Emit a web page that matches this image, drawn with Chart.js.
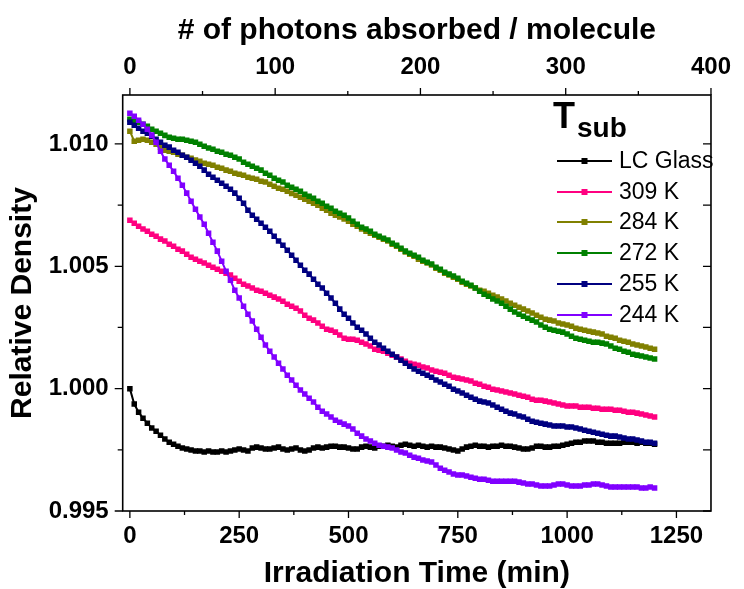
<!DOCTYPE html>
<html>
<head>
<meta charset="utf-8">
<script src="https://cdn.jsdelivr.net/npm/chart.js@4.4.0/dist/chart.umd.min.js"></script>
<style>
  html, body { margin: 0; padding: 0; background: #fff; }
  #graph-holder { width: 744px; height: 589px; }
</style>
</head>
<body>
<div id="graph-holder"><canvas id="graph-main" width="744" height="589"></canvas></div>
<script>
// irradiation time (min), one reading every 10 min
const timeMin = [
    0, 10, 20, 30, 40, 50, 60, 70, 80, 90,
    100, 110, 120, 130, 140, 150, 160, 170, 180, 190,
    200, 210, 220, 230, 240, 250, 260, 270, 280, 290,
    300, 310, 320, 330, 340, 350, 360, 370, 380, 390,
    400, 410, 420, 430, 440, 450, 460, 470, 480, 490,
    500, 510, 520, 530, 540, 550, 560, 570, 580, 590,
    600, 610, 620, 630, 640, 650, 660, 670, 680, 690,
    700, 710, 720, 730, 740, 750, 760, 770, 780, 790,
    800, 810, 820, 830, 840, 850, 860, 870, 880, 890,
    900, 910, 920, 930, 940, 950, 960, 970, 980, 990,
    1000, 1010, 1020, 1030, 1040, 1050, 1060, 1070, 1080, 1090,
    1100, 1110, 1120, 1130, 1140, 1150, 1160, 1170, 1180, 1190,
    1200
];

const lcGlass = [
    1.00000, 0.99937, 0.99904, 0.99879, 0.99859, 0.99839, 0.99826, 0.99810, 0.99794, 0.99781,
    0.99773, 0.99765, 0.99757, 0.99753, 0.99749, 0.99745, 0.99745, 0.99741, 0.99745, 0.99741,
    0.99741, 0.99745, 0.99741, 0.99745, 0.99749, 0.99753, 0.99749, 0.99745, 0.99757, 0.99761,
    0.99757, 0.99753, 0.99753, 0.99757, 0.99761, 0.99753, 0.99749, 0.99753, 0.99757, 0.99749,
    0.99745, 0.99749, 0.99757, 0.99761, 0.99757, 0.99761, 0.99765, 0.99765, 0.99761, 0.99761,
    0.99757, 0.99753, 0.99753, 0.99761, 0.99765, 0.99761, 0.99757, 0.99765, 0.99765, 0.99769,
    0.99765, 0.99761, 0.99769, 0.99773, 0.99769, 0.99765, 0.99769, 0.99765, 0.99761, 0.99765,
    0.99761, 0.99761, 0.99757, 0.99753, 0.99749, 0.99745, 0.99753, 0.99761, 0.99765, 0.99769,
    0.99765, 0.99765, 0.99761, 0.99765, 0.99765, 0.99769, 0.99765, 0.99765, 0.99761, 0.99757,
    0.99753, 0.99753, 0.99757, 0.99765, 0.99765, 0.99761, 0.99761, 0.99765, 0.99765, 0.99769,
    0.99773, 0.99777, 0.99781, 0.99781, 0.99786, 0.99786, 0.99786, 0.99781, 0.99781, 0.99777,
    0.99777, 0.99777, 0.99777, 0.99781, 0.99781, 0.99781, 0.99777, 0.99781, 0.99777, 0.99777,
    0.99773
];

const sub309K = [
    1.00688, 1.00676, 1.00664, 1.00652, 1.00643, 1.00631, 1.00623, 1.00611, 1.00603, 1.00590,
    1.00582, 1.00570, 1.00562, 1.00549, 1.00537, 1.00529, 1.00521, 1.00513, 1.00504, 1.00496,
    1.00488, 1.00480, 1.00472, 1.00464, 1.00451, 1.00439, 1.00427, 1.00419, 1.00411, 1.00402,
    1.00398, 1.00390, 1.00382, 1.00374, 1.00366, 1.00357, 1.00345, 1.00337, 1.00329, 1.00317,
    1.00300, 1.00288, 1.00280, 1.00268, 1.00255, 1.00243, 1.00239, 1.00231, 1.00219, 1.00206,
    1.00202, 1.00202, 1.00198, 1.00190, 1.00182, 1.00174, 1.00161, 1.00157, 1.00153, 1.00145,
    1.00137, 1.00129, 1.00121, 1.00112, 1.00104, 1.00100, 1.00096, 1.00088, 1.00084, 1.00076,
    1.00071, 1.00067, 1.00063, 1.00055, 1.00047, 1.00043, 1.00039, 1.00035, 1.00031, 1.00022,
    1.00018, 1.00010, 1.00006, 0.99998, 0.99994, 0.99990, 0.99986, 0.99982, 0.99978, 0.99973,
    0.99969, 0.99965, 0.99957, 0.99953, 0.99953, 0.99949, 0.99945, 0.99941, 0.99937, 0.99933,
    0.99929, 0.99929, 0.99929, 0.99924, 0.99924, 0.99924, 0.99920, 0.99920, 0.99916, 0.99916,
    0.99916, 0.99912, 0.99912, 0.99908, 0.99904, 0.99904, 0.99900, 0.99896, 0.99892, 0.99888,
    0.99884
];

const sub284K = [
    1.01052, 1.01011, 1.01015, 1.01019, 1.01015, 1.01007, 1.00999, 1.00987, 1.00974, 1.00970,
    1.00966, 1.00958, 1.00954, 1.00946, 1.00942, 1.00934, 1.00929, 1.00921, 1.00917, 1.00913,
    1.00905, 1.00901, 1.00893, 1.00888, 1.00880, 1.00876, 1.00872, 1.00864, 1.00860, 1.00856,
    1.00848, 1.00844, 1.00835, 1.00827, 1.00819, 1.00815, 1.00807, 1.00798, 1.00790, 1.00782,
    1.00774, 1.00766, 1.00758, 1.00750, 1.00737, 1.00729, 1.00717, 1.00709, 1.00701, 1.00693,
    1.00684, 1.00672, 1.00664, 1.00652, 1.00643, 1.00635, 1.00627, 1.00619, 1.00611, 1.00603,
    1.00590, 1.00582, 1.00570, 1.00558, 1.00549, 1.00541, 1.00529, 1.00521, 1.00513, 1.00505,
    1.00492, 1.00484, 1.00472, 1.00464, 1.00455, 1.00447, 1.00435, 1.00427, 1.00419, 1.00411,
    1.00402, 1.00398, 1.00390, 1.00382, 1.00374, 1.00366, 1.00358, 1.00349, 1.00341, 1.00333,
    1.00325, 1.00317, 1.00309, 1.00300, 1.00292, 1.00284, 1.00280, 1.00276, 1.00268, 1.00264,
    1.00260, 1.00255, 1.00247, 1.00243, 1.00239, 1.00235, 1.00231, 1.00227, 1.00223, 1.00214,
    1.00210, 1.00206, 1.00198, 1.00194, 1.00190, 1.00182, 1.00178, 1.00174, 1.00170, 1.00165,
    1.00161
];

const sub272K = [
    1.01101, 1.01097, 1.01089, 1.01080, 1.01072, 1.01060, 1.01052, 1.01044, 1.01035, 1.01027,
    1.01023, 1.01019, 1.01019, 1.01015, 1.01011, 1.01007, 1.00999, 1.00991, 1.00983, 1.00978,
    1.00970, 1.00966, 1.00958, 1.00954, 1.00946, 1.00938, 1.00925, 1.00917, 1.00909, 1.00901,
    1.00893, 1.00880, 1.00872, 1.00860, 1.00852, 1.00844, 1.00831, 1.00823, 1.00815, 1.00807,
    1.00794, 1.00786, 1.00778, 1.00766, 1.00758, 1.00745, 1.00737, 1.00725, 1.00717, 1.00709,
    1.00697, 1.00684, 1.00672, 1.00660, 1.00652, 1.00643, 1.00631, 1.00623, 1.00615, 1.00607,
    1.00594, 1.00586, 1.00574, 1.00562, 1.00553, 1.00545, 1.00537, 1.00525, 1.00517, 1.00509,
    1.00496, 1.00488, 1.00476, 1.00468, 1.00460, 1.00451, 1.00439, 1.00431, 1.00423, 1.00411,
    1.00398, 1.00386, 1.00378, 1.00366, 1.00358, 1.00349, 1.00337, 1.00325, 1.00313, 1.00304,
    1.00296, 1.00288, 1.00280, 1.00272, 1.00260, 1.00251, 1.00243, 1.00239, 1.00235, 1.00231,
    1.00223, 1.00214, 1.00206, 1.00202, 1.00198, 1.00194, 1.00190, 1.00190, 1.00186, 1.00182,
    1.00174, 1.00165, 1.00161, 1.00153, 1.00149, 1.00141, 1.00137, 1.00133, 1.00129, 1.00125,
    1.00121
];

const sub255K = [
    1.01089, 1.01076, 1.01064, 1.01052, 1.01044, 1.01031, 1.01019, 1.01007, 1.00995, 1.00987,
    1.00974, 1.00966, 1.00954, 1.00946, 1.00933, 1.00921, 1.00909, 1.00893, 1.00876, 1.00864,
    1.00852, 1.00839, 1.00827, 1.00815, 1.00799, 1.00778, 1.00758, 1.00729, 1.00709, 1.00692,
    1.00676, 1.00660, 1.00643, 1.00623, 1.00603, 1.00586, 1.00566, 1.00545, 1.00525, 1.00504,
    1.00484, 1.00468, 1.00447, 1.00427, 1.00411, 1.00390, 1.00370, 1.00349, 1.00325, 1.00304,
    1.00288, 1.00268, 1.00251, 1.00239, 1.00223, 1.00206, 1.00190, 1.00178, 1.00165, 1.00153,
    1.00141, 1.00129, 1.00116, 1.00104, 1.00092, 1.00080, 1.00071, 1.00063, 1.00055, 1.00047,
    1.00035, 1.00027, 1.00018, 1.00010, 0.99998, 0.99990, 0.99982, 0.99973, 0.99965, 0.99957,
    0.99949, 0.99945, 0.99941, 0.99933, 0.99924, 0.99916, 0.99908, 0.99900, 0.99896, 0.99888,
    0.99884, 0.99875, 0.99867, 0.99863, 0.99859, 0.99855, 0.99851, 0.99847, 0.99847, 0.99847,
    0.99843, 0.99843, 0.99839, 0.99835, 0.99830, 0.99826, 0.99822, 0.99818, 0.99814, 0.99810,
    0.99806, 0.99806, 0.99802, 0.99798, 0.99794, 0.99794, 0.99790, 0.99786, 0.99781, 0.99781,
    0.99777
];

const sub244K = [
    1.01125, 1.01113, 1.01097, 1.01080, 1.01060, 1.01036, 1.01007, 1.00970, 1.00938, 1.00913,
    1.00888, 1.00860, 1.00831, 1.00799, 1.00766, 1.00733, 1.00701, 1.00672, 1.00635, 1.00598,
    1.00562, 1.00521, 1.00480, 1.00443, 1.00402, 1.00370, 1.00337, 1.00304, 1.00276, 1.00243,
    1.00210, 1.00178, 1.00153, 1.00129, 1.00104, 1.00080, 1.00055, 1.00035, 1.00014, 0.99994,
    0.99978, 0.99961, 0.99945, 0.99924, 0.99908, 0.99896, 0.99884, 0.99871, 0.99863, 0.99855,
    0.99847, 0.99835, 0.99818, 0.99806, 0.99794, 0.99786, 0.99777, 0.99769, 0.99765, 0.99761,
    0.99757, 0.99749, 0.99741, 0.99737, 0.99728, 0.99720, 0.99716, 0.99708, 0.99704, 0.99700,
    0.99688, 0.99675, 0.99667, 0.99659, 0.99651, 0.99647, 0.99647, 0.99643, 0.99638, 0.99634,
    0.99630, 0.99630, 0.99626, 0.99622, 0.99622, 0.99622, 0.99622, 0.99622, 0.99622, 0.99618,
    0.99614, 0.99610, 0.99610, 0.99606, 0.99602, 0.99602, 0.99602, 0.99606, 0.99610, 0.99610,
    0.99606, 0.99602, 0.99602, 0.99602, 0.99606, 0.99606, 0.99610, 0.99610, 0.99606, 0.99602,
    0.99598, 0.99598, 0.99598, 0.99598, 0.99598, 0.99598, 0.99598, 0.99594, 0.99594, 0.99598,
    0.99594
];

const seriesNames = ['LC Glass', '309 K', '284 K', '272 K', '255 K', '244 K'];
const seriesValues = [lcGlass, sub309K, sub284K, sub272K, sub255K, sub244K];
const seriesColors = ['#000000', '#FF0080', '#808000', '#008000', '#000080', '#8000FF'];

const xTicks = [0, 250, 500, 750, 1000, 1250];
const xMinorTicks = [125, 375, 625, 875, 1125];
const topTicks = [0, 100, 200, 300, 400];
const topMinorTicks = [50, 150, 250, 350];
const yTicks = [0.995, 1.000, 1.005, 1.010];
const yMinorTicks = [0.9975, 1.0025, 1.0075];

const FONT = '"Liberation Sans", Arial, Helvetica, sans-serif';
const tickFont = {family: FONT, size: 24, weight: 'bold'};
const titleFont = {family: FONT, size: 30, weight: 'bold', lineHeight: 1};

// frame, tick marks (minor ones too) and the T_sub legend
const frame_plugin = {
    id: 'frame',
    afterDraw(chart) {
        const ctx = chart.ctx;
        const a = chart.chartArea;
        const sx = chart.scales.x;
        const st = chart.scales.x2;
        const sy = chart.scales.y;
        ctx.save();
        ctx.strokeStyle = '#000';
        ctx.lineWidth = 1.3;
        ctx.beginPath();
        for (const v of xTicks) { const p = sx.getPixelForValue(v); ctx.moveTo(p, a.bottom); ctx.lineTo(p, a.bottom + 7); }
        for (const v of xMinorTicks) { const p = sx.getPixelForValue(v); ctx.moveTo(p, a.bottom); ctx.lineTo(p, a.bottom + 4); }
        for (const v of topTicks) { const p = st.getPixelForValue(v); ctx.moveTo(p, a.top); ctx.lineTo(p, a.top - 7); }
        for (const v of topMinorTicks) { const p = st.getPixelForValue(v); ctx.moveTo(p, a.top); ctx.lineTo(p, a.top - 4); }
        for (const v of yTicks) {
            const p = sy.getPixelForValue(v);
            ctx.moveTo(a.left - 8, p); ctx.lineTo(a.left, p);
            ctx.moveTo(a.right - 8, p); ctx.lineTo(a.right, p);
        }
        for (const v of yMinorTicks) {
            const p = sy.getPixelForValue(v);
            ctx.moveTo(a.left - 5, p); ctx.lineTo(a.left, p);
            ctx.moveTo(a.right - 8, p); ctx.lineTo(a.right, p);
        }
        ctx.stroke();
        ctx.lineWidth = 1.6;
        ctx.strokeRect(a.left, a.top, a.right - a.left, a.bottom - a.top);

        // legend
        ctx.fillStyle = '#000';
        ctx.textBaseline = 'alphabetic';
        ctx.textAlign = 'left';
        ctx.font = `bold 36px ${FONT}`;
        ctx.fillText('T', 553, 128);
        ctx.font = `bold 28px ${FONT}`;
        ctx.fillText('sub', 577, 137);
        const rowY = [161, 192, 222, 253, 284, 315];
        ctx.font = `23px ${FONT}`;
        ctx.textBaseline = 'middle';
        seriesNames.forEach((name, i) => {
            const y = rowY[i];
            ctx.strokeStyle = seriesColors[i];
            ctx.fillStyle = seriesColors[i];
            ctx.lineWidth = 2;
            ctx.beginPath();
            ctx.moveTo(557, y);
            ctx.lineTo(612, y);
            ctx.stroke();
            ctx.fillRect(581.5, y - 3, 6, 6);
            ctx.fillStyle = '#000';
            ctx.fillText(name, 619, y + 1);
        });
        ctx.restore();
    }
};

const datasets = seriesValues.map((vals, i) => ({
    label: seriesNames[i],
    data: timeMin.map((t, j) => ({x: t, y: vals[j]})),
    borderColor: seriesColors[i],
    backgroundColor: seriesColors[i],
    pointBackgroundColor: seriesColors[i],
    pointBorderWidth: 0,
    pointStyle: 'rect',
    pointRadius: 3.9,
    borderWidth: 2,
    order: seriesNames.length - i,
    xAxisID: 'x',
    yAxisID: 'y'
}));

const ctx = document.getElementById('graph-main').getContext('2d');
const my_chart = new Chart(ctx, {
    type: 'line',
    data: {datasets: datasets},
    plugins: [frame_plugin],
    options: {
        responsive: false,
        animation: false,
        devicePixelRatio: 1,
        layout: {padding: 0},
        plugins: {legend: {display: false}, tooltip: {enabled: false}},
        scales: {
            x: {
                type: 'linear', position: 'bottom', min: -16.4, max: 1329,
                grid: {display: false, drawTicks: false}, border: {display: false},
                afterBuildTicks: (axis) => { axis.ticks = xTicks.map(v => ({value: v})); },
                ticks: {font: tickFont, color: '#000', padding: 11, maxRotation: 0, autoSkip: false,
                        callback: (v) => String(v)},
                title: {display: true, text: 'Irradiation Time (min)', font: titleFont, color: '#000',
                        padding: {top: 0, bottom: 0}},
                afterFit: (axis) => { axis.height = 78; }
            },
            x2: {
                type: 'linear', position: 'top', min: -4.95, max: 400,
                grid: {display: false, drawTicks: false}, border: {display: false},
                afterBuildTicks: (axis) => { axis.ticks = topTicks.map(v => ({value: v})); },
                ticks: {font: tickFont, color: '#000', padding: 13, maxRotation: 0, autoSkip: false,
                        callback: (v) => String(v)},
                title: {display: true, text: '# of photons absorbed / molecule', font: titleFont, color: '#000',
                        padding: {top: 16, bottom: 0}},
                afterFit: (axis) => { axis.height = 95; }
            },
            y: {
                type: 'linear', position: 'left', min: 0.995, max: 1.012,
                grid: {display: false, drawTicks: false}, border: {display: false},
                afterBuildTicks: (axis) => { axis.ticks = yTicks.map(v => ({value: v})); },
                ticks: {font: tickFont, color: '#000', padding: 14, autoSkip: false,
                        callback: (v) => Number(v).toFixed(3)},
                title: {display: true, text: 'Relative Density', font: titleFont, color: '#000',
                        padding: {top: 8, bottom: 0}},
                afterFit: (axis) => { axis.width = 122.7; }
            },
            yr: {
                type: 'linear', position: 'right', min: 0.995, max: 1.012,
                grid: {display: false, drawTicks: false}, border: {display: false},
                ticks: {display: false},
                afterFit: (axis) => { axis.width = 24; }
            }
        }
    }
});
</script>
</body>
</html>
